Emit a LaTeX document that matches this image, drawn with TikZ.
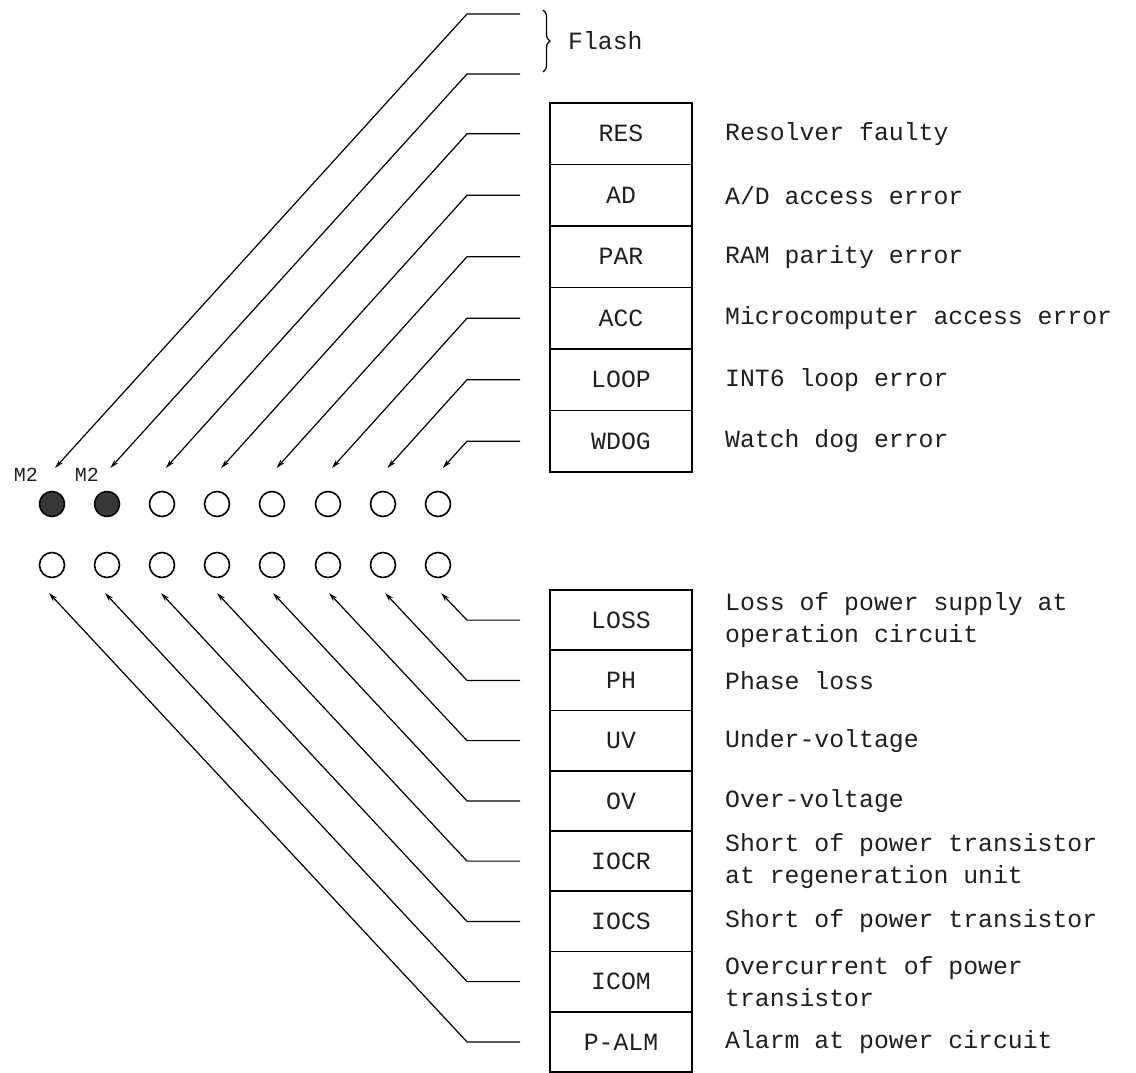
\documentclass[tikz,border=0pt]{standalone}
\usepackage{fontspec}
\setmonofont{Liberation Mono}
\usetikzlibrary{arrows.meta,decorations.pathreplacing}
\begin{document}
\begin{tikzpicture}[x=1pt,y=-1pt,
  every node/.style={font=\ttfamily\fontsize{24.8}{32}\selectfont, text=black!88, inner sep=0pt},
  cell/.style={draw, line width=1.8pt, minimum width=142pt, minimum height=61.5pt},
  cellb/.style={cell, minimum height=60.25pt},
  desc/.style={anchor=west, align=left},
  led/.style={circle, draw, line width=1.6pt, minimum size=25pt},
  ledon/.style={led, fill=black!78},
  lead/.style={line width=1.2pt, -{Stealth[length=9pt,width=5pt]}},
  mlab/.style={font=\ttfamily\fontsize{20}{24}\selectfont},
]
\useasboundingbox (0,0) rectangle (1136,1073);

% ---------- LEDs ----------
\node[ledon] (t0) at (52,504) {};
\node[ledon] (t1) at (107,504) {};
\node[led] (t2) at (162,504) {};
\node[led] (t3) at (217,504) {};
\node[led] (t4) at (272,504) {};
\node[led] (t5) at (328,504) {};
\node[led] (t6) at (383,504) {};
\node[led] (t7) at (438,504) {};
\foreach \i/\x in {0/52,1/107,2/162,3/217,4/272,5/328,6/383,7/438}
  \node[led] (b\i) at (\x,565) {};

\node[mlab] (m2a) at (26,475) {M2};
\node[mlab] (m2b) at (87,475) {M2};

% ---------- upper table ----------
\node[cell] (res)  at (621,133.75) {RES};
\node[cell] (ad)   at (621,195.25) {AD};
\node[cell] (par)  at (621,256.75) {PAR};
\node[cell] (acc)  at (621,318.25) {ACC};
\node[cell] (loop) at (621,379.75) {LOOP};
\node[cell] (wdog) at (621,441.25) {WDOG};

\node[desc] (dres)  at (725,133.75) {Resolver faulty};
\node[desc] (dad)   at (725,195.25) {A/D access error};
\node[desc] (dpar)  at (725,256.75) {RAM parity error};
\node[desc] (dacc)  at (725,318.25) {Microcomputer access error};
\node[desc] (dloop) at (725,379.75) {INT6 loop error};
\node[desc] (dwdog) at (725,441.25) {Watch dog error};

% Flash brace
\coordinate (brT) at (543,10);
\coordinate (brB) at (543,72);
\draw[line width=1.2pt, decorate, decoration={brace, amplitude=7pt}] (brT) -- (brB);
\node[desc] (flash) at (568,41) {Flash};

% upper leaders
\foreach \i/\y in {0/14,1/74,2/133.75,3/195.25,4/256.75,5/318.25,6/379.75,7/441.25}{
  \pgfmathsetmacro{\tx}{55+55.4*\i}
  \coordinate (us\i) at (520,\y);
  \coordinate (uc\i) at (467,\y);
  \coordinate (ut\i) at (\tx,468);
  \draw[lead] (us\i) -- (uc\i) -- (ut\i);
}

% ---------- lower table ----------
\node[cellb] (loss) at (621,620.1) {LOSS};
\node[cellb] (ph)   at (621,680.4) {PH};
\node[cellb] (uv)   at (621,740.6) {UV};
\node[cellb] (ov)   at (621,800.9) {OV};
\node[cellb] (iocr) at (621,861.1) {IOCR};
\node[cellb] (iocs) at (621,921.4) {IOCS};
\node[cellb] (icom) at (621,981.6) {ICOM};
\node[cellb] (palm) at (621,1041.9) {P-ALM};

\node[desc] (dloss) at (725,620.1) {Loss of power supply at\\operation circuit};
\node[desc] (dph)   at (725,680.4) {Phase loss};
\node[desc] (duv)   at (725,740.6) {Under-voltage};
\node[desc] (dov)   at (725,800.9) {Over-voltage};
\node[desc] (diocr) at (725,861.1) {Short of power transistor\\at regeneration unit};
\node[desc] (diocs) at (725,921.4) {Short of power transistor};
\node[desc] (dicom) at (725,981.6) {Overcurrent of power\\transistor};
\node[desc] (dpalm) at (725,1041.9) {Alarm at power circuit};

% lower leaders
\foreach \i/\y in {7/620.1,6/680.4,5/740.6,4/800.9,3/861.1,2/921.4,1/981.6,0/1041.9}{
  \pgfmathsetmacro{\tx}{49+56*\i}
  \coordinate (ls\i) at (520,\y);
  \coordinate (lc\i) at (467,\y);
  \coordinate (lt\i) at (\tx,593);
  \draw[lead] (ls\i) -- (lc\i) -- (lt\i);
}
\end{tikzpicture}
\end{document}
